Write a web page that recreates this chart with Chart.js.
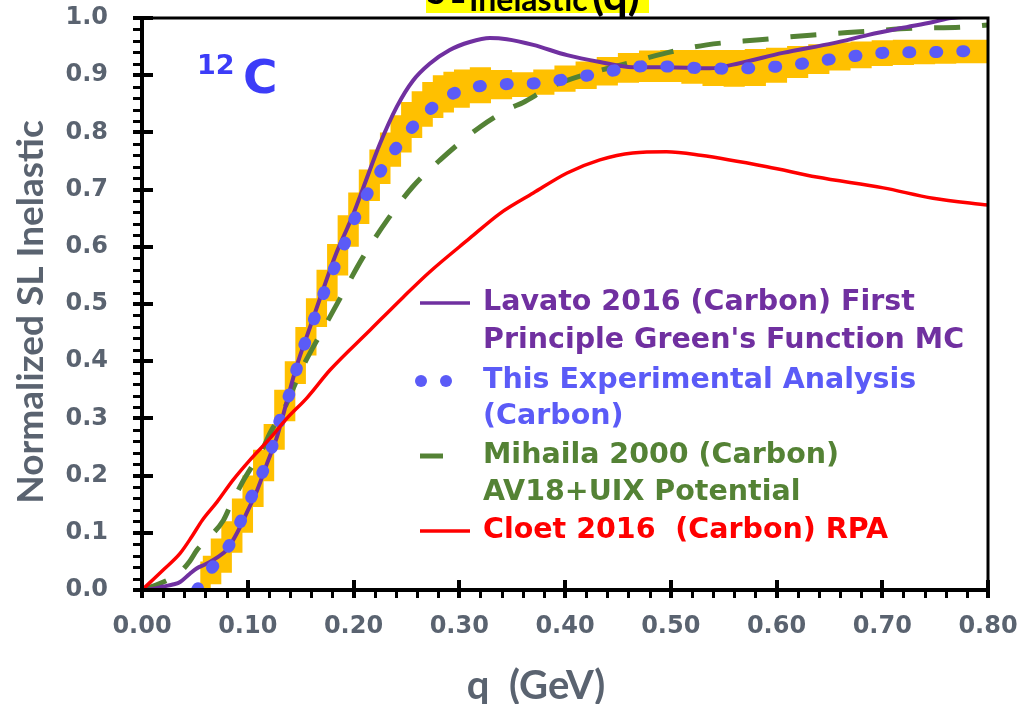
<!DOCTYPE html>
<html>
<head>
<meta charset="utf-8">
<title>Normalized SL Inelastic vs q</title>
<script src="https://cdn.jsdelivr.net/npm/chart.js@4.4.1/dist/chart.umd.min.js"></script>
<style>
  html, body { margin: 0; padding: 0; background: #fff; }
  canvas { display: block; }
</style>
</head>
<body>
<canvas id="slChart" width="1019" height="704"></canvas>
<script>
// axis labels
const qTickLabels = ['0.00', '0.10', '0.20', '0.30', '0.40', '0.50', '0.60', '0.70', '0.80'];
const sTickLabels = ['0.0', '0.1', '0.2', '0.3', '0.4', '0.5', '0.6', '0.7', '0.8', '0.9', '1.0'];

// Lavato 2016, GFMC
const lavatoQ = [0.000, 0.010, 0.020, 0.030, 0.036, 0.045, 0.052, 0.060, 0.072, 0.080, 0.090, 0.099, 0.109, 0.118, 0.128,
  0.137, 0.146, 0.159, 0.171, 0.184, 0.194, 0.200, 0.209, 0.225, 0.241, 0.256, 0.272, 0.291, 0.310, 0.329, 0.345,
  0.370, 0.402, 0.433, 0.464, 0.496, 0.537, 0.565, 0.606, 0.654, 0.686, 0.717, 0.748, 0.765, 0.790];
const lavatoS = [0.000, 0.002, 0.006, 0.010, 0.014, 0.028, 0.038, 0.045, 0.058, 0.070, 0.100, 0.135, 0.175, 0.220, 0.270,
  0.330, 0.390, 0.460, 0.524, 0.590, 0.632, 0.658, 0.702, 0.780, 0.845, 0.890, 0.920, 0.944, 0.958, 0.965, 0.963,
  0.953, 0.935, 0.923, 0.914, 0.914, 0.912, 0.921, 0.939, 0.956, 0.970, 0.982, 0.993, 1.000, 1.003];

// this analysis (dots) and its uncertainty band
const expQ = [0.052, 0.06, 0.07, 0.08, 0.09, 0.10, 0.11, 0.12, 0.13, 0.14, 0.15, 0.16, 0.17, 0.18, 0.19, 0.20, 0.21,
  0.22, 0.23, 0.24, 0.25, 0.26, 0.27, 0.28, 0.29, 0.30, 0.32, 0.34, 0.36, 0.38, 0.40, 0.42, 0.44, 0.46, 0.48, 0.50,
  0.52, 0.54, 0.56, 0.58, 0.60, 0.62, 0.64, 0.66, 0.68, 0.70, 0.72, 0.74, 0.76, 0.78, 0.80];
const expS = [0.000, 0.025, 0.047, 0.070, 0.107, 0.148, 0.190, 0.232, 0.295, 0.346, 0.410, 0.460, 0.510, 0.555, 0.598,
  0.645, 0.682, 0.715, 0.745, 0.772, 0.796, 0.818, 0.836, 0.851, 0.864, 0.872, 0.881, 0.884, 0.885, 0.887, 0.893,
  0.899, 0.906, 0.913, 0.916, 0.915, 0.913, 0.912, 0.911, 0.913, 0.915, 0.919, 0.925, 0.930, 0.935, 0.939, 0.940,
  0.940, 0.941, 0.942, 0.942];

const bandQ = [0.055, 0.06, 0.07, 0.08, 0.09, 0.10, 0.11, 0.12, 0.13, 0.14, 0.15, 0.16, 0.17, 0.18, 0.19, 0.20, 0.21,
  0.22, 0.23, 0.24, 0.25, 0.26, 0.27, 0.28, 0.29, 0.30, 0.32, 0.34, 0.36, 0.38, 0.40, 0.42, 0.44, 0.46, 0.48, 0.50,
  0.52, 0.54, 0.56, 0.58, 0.60, 0.62, 0.64, 0.66, 0.68, 0.70, 0.72, 0.74, 0.76, 0.78, 0.80];
const bandHigh = [0.050, 0.060, 0.090, 0.120, 0.160, 0.200, 0.245, 0.290, 0.350, 0.400, 0.460, 0.510, 0.560, 0.605,
  0.655, 0.695, 0.735, 0.770, 0.800, 0.830, 0.853, 0.872, 0.888, 0.900, 0.906, 0.910, 0.914, 0.909, 0.905, 0.910,
  0.917, 0.924, 0.932, 0.939, 0.943, 0.944, 0.944, 0.944, 0.944, 0.946, 0.948, 0.951, 0.954, 0.957, 0.959, 0.961,
  0.962, 0.962, 0.962, 0.962, 0.962];
const bandLow = [0.000, 0.000, 0.010, 0.030, 0.065, 0.100, 0.145, 0.190, 0.245, 0.295, 0.360, 0.410, 0.460, 0.505,
  0.550, 0.600, 0.640, 0.680, 0.710, 0.740, 0.765, 0.790, 0.810, 0.825, 0.835, 0.843, 0.851, 0.858, 0.862, 0.866,
  0.871, 0.876, 0.882, 0.887, 0.888, 0.888, 0.885, 0.881, 0.880, 0.881, 0.887, 0.895, 0.902, 0.908, 0.912, 0.916,
  0.918, 0.919, 0.920, 0.921, 0.921];

// Mihaila 2000, AV18+UIX
const mihailaQ = [0.000, 0.008, 0.024, 0.033, 0.045, 0.052, 0.058, 0.077, 0.083, 0.096, 0.102, 0.115, 0.121, 0.134,
  0.152, 0.171, 0.190, 0.209, 0.232, 0.256, 0.282, 0.320, 0.348, 0.360, 0.386, 0.417, 0.464, 0.496, 0.534, 0.584,
  0.632, 0.679, 0.729, 0.776, 0.800];
const mihailaS = [0.000, 0.005, 0.017, 0.026, 0.050, 0.070, 0.082, 0.122, 0.145, 0.192, 0.210, 0.250, 0.274, 0.315,
  0.390, 0.455, 0.519, 0.582, 0.647, 0.705, 0.752, 0.810, 0.842, 0.852, 0.879, 0.900, 0.923, 0.939, 0.953, 0.962,
  0.970, 0.976, 0.982, 0.984, 0.988];

// Cloet 2016, RPA
const cloetQ = [0.000, 0.020, 0.036, 0.047, 0.057, 0.071, 0.086, 0.102, 0.121, 0.137, 0.156, 0.178, 0.216, 0.247,
  0.272, 0.310, 0.339, 0.370, 0.402, 0.433, 0.464, 0.496, 0.528, 0.591, 0.638, 0.701, 0.748, 0.800];
const cloetS = [0.000, 0.035, 0.064, 0.093, 0.122, 0.154, 0.192, 0.227, 0.265, 0.300, 0.336, 0.385, 0.455, 0.512,
  0.556, 0.615, 0.659, 0.694, 0.729, 0.752, 0.764, 0.766, 0.760, 0.740, 0.722, 0.703, 0.685, 0.673];

const legendRows = [
  { text: ['Lavato 2016 (Carbon) First', "Principle Green's Function MC"], color: '#7030a0', mark: 'line' },
  { text: ['This Experimental Analysis', '(Carbon)'], color: '#5b5bf7', mark: 'dots' },
  { text: ['Mihaila 2000 (Carbon)', 'AV18+UIX Potential'], color: '#548235', mark: 'dash' },
  { text: ['Cloet 2016  (Carbon) RPA'], color: '#ff0000', mark: 'line' }
];

const pts = (xs, ys) => xs.map((x, i) => ({ x: x, y: ys[i] }));

const LABEL_GREY = '#5a6370';
const titleFont = 'bold 37px Lato, "DejaVu Sans Condensed", sans-serif';

// frame, minor ticks, legend and annotations
const decorations = {
  id: 'decorations',
  beforeDraw(chart) {
    const ctx = chart.ctx;
    ctx.save();
    ctx.fillStyle = '#fff';
    ctx.fillRect(0, 0, chart.width, chart.height);
    ctx.restore();
  },
  afterDatasetsDraw(chart) {
    const ctx = chart.ctx;
    const a = chart.chartArea;
    const xs = chart.scales.x, ys = chart.scales.y;
    ctx.save();
    ctx.strokeStyle = '#000';
    ctx.lineCap = 'butt';

    // minor ticks every 0.02, pointing outwards
    ctx.lineWidth = 3;
    ctx.beginPath();
    for (let k = 1; k < 50; k++) {
      if (k % 5 === 0) continue;
      const py = Math.round(ys.getPixelForValue(k * 0.02)) + 0.5;
      ctx.moveTo(a.left - 9, py);
      ctx.lineTo(a.left, py);
    }
    for (let k = 1; k < 40; k++) {
      if (k % 5 === 0) continue;
      const px = Math.round(xs.getPixelForValue(k * 0.02)) + 0.5;
      ctx.moveTo(px, a.bottom);
      ctx.lineTo(px, a.bottom + 8);
    }
    ctx.stroke();

    // major ticks cross the axis
    ctx.lineWidth = 4;
    ctx.beginPath();
    for (let k = 0; k <= 10; k++) {
      const py = Math.round(ys.getPixelForValue(k * 0.1));
      ctx.moveTo(a.left - 9, py);
      ctx.lineTo(a.left + 11, py);
    }
    for (let k = 0; k <= 8; k++) {
      const px = Math.round(xs.getPixelForValue(k * 0.1));
      ctx.moveTo(px, a.bottom + 8);
      ctx.lineTo(px, a.bottom - 10);
    }
    ctx.stroke();

    // box
    ctx.lineWidth = 3;
    ctx.strokeRect(a.left, a.top, a.right - a.left, a.bottom - a.top);
    ctx.lineWidth = 4;
    ctx.beginPath();
    ctx.moveTo(a.left, a.top);
    ctx.lineTo(a.left, a.bottom);
    ctx.lineTo(a.right, a.bottom);
    ctx.stroke();
    ctx.restore();
  },
  afterDraw(chart) {
    const ctx = chart.ctx;
    ctx.save();

    // heading strip at the very top
    ctx.fillStyle = '#ffff00';
    ctx.fillRect(426, 0, 223, 13);
    ctx.fillStyle = '#000';
    ctx.textBaseline = 'alphabetic';
    ctx.font = 'bold 34px Lato, sans-serif';
    ctx.fillText('S', 427, 4);
    ctx.font = 'bold 28px Lato, sans-serif';
    ctx.fillText('L', 450, 3);
    ctx.font = 'bold 32px Lato, sans-serif';
    ctx.fillText('Inelastic', 469, 11);
    ctx.font = 'bold 44px Lato, sans-serif';
    ctx.fillText('(q)', 592, 10);

    // nucleus label
    ctx.fillStyle = '#3c3cf8';
    ctx.font = 'bold 27px "DejaVu Sans", sans-serif';
    ctx.fillText('12', 197, 74);
    ctx.font = 'bold 47px "DejaVu Sans", sans-serif';
    ctx.fillText('C', 243, 93);

    // axis titles
    ctx.fillStyle = LABEL_GREY;
    ctx.textAlign = 'center';
    ctx.textBaseline = 'middle';
    ctx.font = 'bold 40px Lato, "DejaVu Sans Condensed", sans-serif';
    ctx.fillText('q  (GeV)', 536, 686);
    ctx.font = titleFont;
    ctx.save();
    ctx.translate(31, 312);
    ctx.rotate(-Math.PI / 2);
    ctx.fillText('Normalized SL Inelastic', 0, 0);
    ctx.restore();

    // legend
    const rowY = [[303, 341], [381, 417], [456, 493], [531]];
    ctx.textAlign = 'left';
    ctx.font = 'bold 28.5px "DejaVu Sans", sans-serif';
    legendRows.forEach((row, i) => {
      const y = rowY[i][0];
      ctx.strokeStyle = row.color;
      ctx.fillStyle = row.color;
      if (row.mark === 'line') {
        ctx.lineWidth = 3.5;
        ctx.beginPath();
        ctx.moveTo(420, y);
        ctx.lineTo(470, y);
        ctx.stroke();
      } else if (row.mark === 'dash') {
        ctx.lineWidth = 5;
        ctx.beginPath();
        ctx.moveTo(420, y);
        ctx.lineTo(443, y);
        ctx.stroke();
      } else {
        [421, 446].forEach(cx => {
          ctx.beginPath();
          ctx.arc(cx, y, 6, 0, Math.PI * 2);
          ctx.fill();
        });
      }
      row.text.forEach((t, j) => ctx.fillText(t, 483, rowY[i][j]));
    });
    ctx.restore();
  }
};

new Chart(document.getElementById('slChart'), {
  type: 'line',
  data: {
    datasets: [
      {
        label: 'Cloet 2016 (Carbon) RPA',
        data: pts(cloetQ, cloetS),
        borderColor: '#ff0000',
        borderWidth: 3.5,
        pointRadius: 0,
        cubicInterpolationMode: 'monotone',
        order: 0
      },
      {
        label: 'This Experimental Analysis (Carbon)',
        data: pts(expQ, expS),
        borderColor: '#5b5bf7',
        borderWidth: 12,
        borderDash: [2, 25],
        borderCapStyle: 'round',
        pointRadius: 0,
        cubicInterpolationMode: 'monotone',
        order: 1
      },
      {
        label: "Lavato 2016 (Carbon) First Principle Green's Function MC",
        data: pts(lavatoQ, lavatoS),
        borderColor: '#7030a0',
        borderWidth: 4,
        pointRadius: 0,
        cubicInterpolationMode: 'monotone',
        order: 2
      },
      {
        label: 'Mihaila 2000 (Carbon) AV18+UIX Potential',
        data: pts(mihailaQ, mihailaS),
        borderColor: '#548235',
        borderWidth: 5,
        borderDash: [26, 22],
        pointRadius: 0,
        cubicInterpolationMode: 'monotone',
        order: 3
      },
      {
        label: 'band upper',
        data: pts(bandQ, bandHigh),
        borderWidth: 0,
        borderColor: 'rgba(0,0,0,0)',
        pointRadius: 0,
        stepped: 'middle',
        fill: false,
        order: 4
      },
      {
        label: 'band lower',
        data: pts(bandQ, bandLow),
        borderWidth: 0,
        borderColor: 'rgba(0,0,0,0)',
        backgroundColor: '#ffc000',
        pointRadius: 0,
        stepped: 'middle',
        fill: '-1',
        order: 5
      }
    ]
  },
  options: {
    responsive: false,
    animation: false,
    layout: { padding: { top: 18, right: 31, left: 0, bottom: 0 } },
    plugins: { legend: { display: false }, tooltip: { enabled: false } },
    scales: {
      x: {
        type: 'linear',
        min: 0,
        max: 0.8,
        afterFit: s => { s.height = 114; s.paddingLeft = 0; s.paddingRight = 0; },
        grid: { display: false, drawTicks: false },
        border: { display: false },
        ticks: {
          stepSize: 0.1,
          padding: 22,
          color: LABEL_GREY,
          font: { family: 'DejaVu Sans', size: 24, weight: 'bold' },
          callback: (v, i) => qTickLabels[i]
        }
      },
      y: {
        type: 'linear',
        min: 0,
        max: 1,
        afterFit: s => { s.width = 142; s.paddingTop = 0; s.paddingBottom = 0; },
        grid: { display: false, drawTicks: false },
        border: { display: false },
        ticks: {
          stepSize: 0.1,
          padding: 34,
          color: LABEL_GREY,
          font: { family: 'DejaVu Sans', size: 24, weight: 'bold' },
          callback: (v, i) => sTickLabels[i]
        }
      }
    }
  },
  plugins: [decorations]
});
</script>
</body>
</html>
